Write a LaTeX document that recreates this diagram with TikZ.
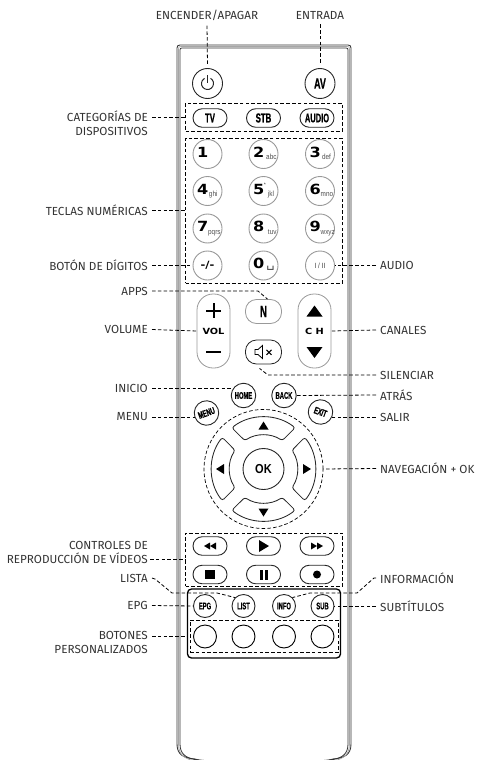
\documentclass[tikz,border=0pt]{standalone}
\usepackage{fontspec}
\setmainfont{Fira Sans}
\newfontfamily\capfont[FakeStretch=0.6,FakeBold=0.6]{Liberation Sans Bold}
\newfontfamily\numfont[FakeStretch=1.15]{DejaVu Sans Bold}
\newfontfamily\subfont[FakeStretch=0.85]{Liberation Sans}
\newfontfamily\symfont{DejaVu Sans}
\newcommand{\dkey}[2]{\makebox[26pt][l]{\hspace{2.5pt}\raisebox{-3pt}[0pt][0pt]{\numfont\fontsize{14}{14}\selectfont #1}\hfill\raisebox{-5.5pt}[0pt][0pt]{\subfont\fontsize{7.5}{7.5}\selectfont\color{black!70} #2}}}
\usetikzlibrary{positioning,arrows.meta}

\begin{document}
\begin{tikzpicture}[x=1pt,y=-1pt,
  lbc/.style={inner sep=0pt, font=\fontsize{11.7}{13.5}\selectfont, text=black!80},
  lbl/.style={lbc, align=right, anchor=east},
  lbr/.style={lbc, align=left, anchor=west},
  lead/.style={dash pattern=on 3.6pt off 2.2pt, line width=.8pt, black},
  zone/.style={draw=black, dash pattern=on 3.6pt off 2.2pt, line width=.8pt, minimum width=157pt, inner sep=0pt},
  rnd/.style={draw=black!85, circle, line width=.9pt, inner sep=0pt, minimum size=23pt, font=\capfont\fontsize{9.7}{9.7}\selectfont},
  big/.style={rnd, minimum size=30pt, font=\capfont\fontsize{15}{15}\selectfont},
  num/.style={rnd, draw=black!40, minimum size=29pt},
  pill/.style={draw=black!85, line width=.9pt, rounded corners=9.2pt, inner sep=0pt, minimum width=34pt, minimum height=18.5pt, font=\capfont\fontsize{13}{13}\selectfont},
  tall/.style={draw=black!40, line width=.8pt, rounded corners=16pt, inner sep=0pt, minimum width=33pt, minimum height=74pt, font=\numfont\fontsize{8.5}{8.5}\selectfont},
  oval/.style={draw=black!40, line width=.8pt, rounded corners=11pt, inner sep=0pt, minimum width=36pt, minimum height=24pt}]
\useasboundingbox (0,0) rectangle (477,760);
% remote body
\draw[line width=.9pt, black!80] (205,762) -- (195,759) .. controls (184,758) and (177,755) .. (177,744)
  -- (177,48) .. controls (177,46) and (178,45) .. (180,45) -- (348,45) .. controls (350,45) and (351,46) .. (351,48)
  -- (351,744) .. controls (351,755) and (344,758) .. (333,759) -- (323,762);
\draw[line width=.7pt, black!35] (205,762) -- (195,761) .. controls (185,759) and (178.5,755) .. (178.5,744)
  -- (178.5,49) .. controls (178.5,47) and (179,46.5) .. (181,46.5) -- (347,46.5) .. controls (349,46.5) and (349.5,47) .. (349.5,49)
  -- (349.5,744) .. controls (349.5,755) and (343,759) .. (333,761) -- (323,762);
\draw[line width=.8pt, black!80] (205,760.5) -- (195,759.5) .. controls (186,758) and (180,754) .. (180,744)
  -- (180,50) .. controls (180,48.5) and (180.5,48) .. (182,48) -- (346,48) .. controls (347.5,48) and (348,48.5) .. (348,50)
  -- (348,744) .. controls (348,754) and (342,758) .. (333,759.5) -- (323,760.5);
% buttons at the top
\node[big] (pwr) at (207.5,83.5) {};
\node[big] (av) at (320,83.5) {AV};
\begin{scope}[shift={(pwr.center)}, y=1pt]
  \draw[line width=1pt, black!85] (60:6) arc[start angle=60, end angle=-240, radius=6];
  \draw[line width=1pt, black!85] (0,1) -- (0,9);
\end{scope}
\node[zone, minimum height=28pt] (dev) at (264,117) {};
\node[pill] (tv) at (210,118) {TV};
\node[pill] (stb) at (263.5,118) {STB};
\node[pill, font=\capfont\fontsize{12.5}{12.5}\selectfont] (aud) at (317,118) {AUDIO};
% number keys
\node[zone, minimum height=145pt] (nums) at (264,210.5) {};
\node[num] (k1) at (207.5,154) {\dkey{1}{}};
\node[num] (k2) at (263.5,154) {\dkey{2}{abc}};
\node[num] (k3) at (320,154) {\dkey{3}{def\hspace{2pt}}};
\node[num] (k4) at (207.5,191) {\dkey{4}{ghi\hspace{3pt}}};
\node[num] (k5) at (263.5,191) {\dkey{5\rlap{\raisebox{8pt}{\subfont\fontsize{5}{5}\selectfont *}}}{jkl\hspace{2.5pt}}};
\node[num] (k6) at (320,191) {\dkey{6}{mno\hspace{2pt}}};
\node[num] (k7) at (207.5,228.5) {\dkey{7}{pqrs\hspace{1pt}}};
\node[num] (k8) at (263.5,228.5) {\dkey{8}{tuv}};
\node[num] (k9) at (320,228.5) {\dkey{9}{wxyz\hspace{2pt}}};
\node[num, font=\numfont\fontsize{10}{10}\selectfont] (dig) at (207.5,265.5) {-/-};
\node[num] (k0) at (263.5,265.5) {\dkey{0}{\raisebox{4pt}{\symfont\fontsize{13}{13}\selectfont ␣}\hspace{2pt}}};
\node[num, font=\subfont\fontsize{7.5}{7.5}\selectfont\color{black!75}] (dual) at (320,265.5) {I / II};
% volume, channels
\node[tall] (vol) at (213.5,331) {VOL};
\node[tall] (chn) at (314.5,331) {C H};
\node[oval] (app) at (263.5,311.5) {\capfont\fontsize{16.5}{16.5}\selectfont N};
\node[oval, draw=black!85] (mute) at (263.5,352) {};
\fill (vol.center) ++(-7.5,-21.5) rectangle ++(15,2);
\fill (vol.center) ++(-1,-28) rectangle ++(2,15);
\fill (vol.center) ++(-7.5,19.7) rectangle ++(15,2);
\fill (chn.center) ++(0,-25.5) -- ++(8,11) -- ++(-16,0) -- cycle;
\fill (chn.center) ++(0,27) -- ++(8,-11) -- ++(-16,0) -- cycle;
\draw[line width=.8pt] (mute.center) ++(-8.5,-2.5) -- ++(3,0) -- ++(4.5,-4) -- ++(0,13) -- ++(-4.5,-4) -- ++(-3,0) -- cycle;
\draw[line width=1pt] (mute.center) ++(3,-2.2) -- ++(5,5) ++(0,-5) -- ++(-5,5);
% small round keys
\node[rnd, minimum size=24.5pt] (home) at (243.5,395.5) {HOME};
\node[rnd, minimum size=24.5pt] (back) at (284,395.5) {BACK};
\node[rnd, minimum size=24.5pt, rotate=20] (menu) at (206.5,413) {MENU};
\node[rnd, minimum size=24.5pt, rotate=-20] (exit) at (320.5,412) {EXIT};
% navigation
\node[draw=black, circle, dash pattern=on 3.6pt off 2.2pt, line width=.7pt, minimum size=119pt, inner sep=0pt] (nav) at (263.5,469) {};
\node[rnd, minimum size=41pt, font=\subfont\bfseries\fontsize{13}{13}\selectfont] (ok) at (nav.center) {OK};
\foreach \a in {0,90,180,270} {
  \begin{scope}[shift={(nav.center)}, y=1pt, rotate=\a]
    \draw[line width=.85pt, black!85, rounded corners=2.5pt] (127.5:52) arc[start angle=127.5, end angle=52.5, radius=52]
      -- (56.6:34) arc[start angle=56.6, end angle=123.4, radius=34] -- cycle;
    \fill (0,47.5) -- (5,39.5) -- (-5,39.5) -- cycle;
  \end{scope}
}
% video controls
\node[zone, minimum height=53pt] (vid) at (264,559.5) {};
\node[pill] (rew) at (210,546) {};
\node[pill] (ply) at (263.5,546) {};
\node[pill] (fwd) at (317,546) {};
\node[pill] (stp) at (210,574.5) {};
\node[pill] (pau) at (263.5,574.5) {};
\node[pill] (rec) at (317,574.5) {};
\fill (rew.center) -- ++(6,-3.5) -- ++(0,7) -- cycle;
\fill (rew.center) ++(-6,0) -- ++(6,-3.5) -- ++(0,7) -- cycle;
\fill (ply.center) ++(-4.5,-6) -- ++(10,6) -- ++(-10,6) -- cycle;
\fill (fwd.center) -- ++(-6,-3.5) -- ++(0,7) -- cycle;
\fill (fwd.center) ++(6,0) -- ++(-6,-3.5) -- ++(0,7) -- cycle;
\fill (stp.center) ++(-5,-4.5) rectangle ++(10,9);
\fill (pau.center) ++(-4,-5) rectangle ++(3,10);
\fill (pau.center) ++(1,-5) rectangle ++(3,10);
\fill (rec.center) circle[radius=4pt];
% lower block
\node[draw, line width=1.3pt, rounded corners=4pt, minimum width=153pt, minimum height=69pt, inner sep=0pt] (blk) at (264,623.5) {};
\node[rnd] (epg) at (205,606) {EPG};
\node[rnd] (lst) at (243.5,606) {LIST};
\node[rnd] (inf) at (284,606) {INFO};
\node[rnd] (sub) at (322.5,606) {SUB};
\node[zone, minimum width=148pt, minimum height=32.5pt] (cus) at (264,636.5) {};
\node[rnd, draw=black] (c1) at (205,636.5) {};
\node[rnd, draw=black] (c2) at (243.5,636.5) {};
\node[rnd, draw=black] (c3) at (284,636.5) {};
\node[rnd, draw=black] (c4) at (322.5,636.5) {};
% labels
\node[lbc] (lpwr) at (207,15) {ENCENDER/APAGAR};
\node[lbc] (lav) at (320,15) {ENTRADA};
\node[lbl] (ldev) at (148,123) {CATEGORÍAS DE\\DISPOSITIVOS};
\node[lbl] (lnum) at (148,210.5) {TECLAS NUMÉRICAS};
\node[lbl] (ldig) at (148,265.5) {BOTÓN DE DÍGITOS};
\node[lbl] (lapp) at (148,291) {APPS};
\node[lbl] (lvol) at (148,329.5) {VOLUME};
\node[lbl] (lhom) at (148,388) {INICIO};
\node[lbl] (lmen) at (148,417) {MENU};
\node[lbl] (lvid) at (148,552.5) {CONTROLES DE\\REPRODUCCIÓN DE VÍDEOS};
\node[lbl] (llst) at (148,578) {LISTA};
\node[lbl] (lepg) at (148,605.5) {EPG};
\node[lbl] (lcus) at (148,642.5) {BOTONES\\PERSONALIZADOS};
\node[lbr] (laud) at (380,265.5) {AUDIO};
\node[lbr] (lchn) at (380,330) {CANALES};
\node[lbr] (lmut) at (380,375) {SILENCIAR};
\node[lbr] (lbak) at (380,395) {ATRÁS};
\node[lbr] (lexi) at (380,417) {SALIR};
\node[lbr] (lnav) at (380,468.5) {NAVEGACIÓN + OK};
\node[lbr] (linf) at (380,578) {INFORMACIÓN};
\node[lbr] (lsub) at (380,606) {SUBTÍTULOS};
% leaders
\draw[lead] (lpwr.south) ++(0,5) -- ([yshift=3.5pt]pwr.north);
\draw[lead] (lav.south) ++(0,5) -- ([yshift=3.5pt]av.north);
\draw[lead] (ldev.east |- dev.west) ++(4,0) -- (dev.west);
\draw[lead] (lnum.east) ++(4,0) -- (nums.west);
\draw[lead] (ldig.east) ++(4,0) -- (dig.west);
\draw[lead] (lapp.east) ++(4,0) -- (258,291) -- ([xshift=4pt]app.north);
\draw[lead] (lvol.east) ++(4,0) -- (vol.west);
\draw[lead] (lhom.east) ++(4,0) -- (home.west |- lhom.east);
\draw[lead] (lmen.east) ++(4,0) -- (menu.west |- lmen.east);
\draw[lead] (lvid.east |- vid.west) ++(2,0) -- (vid.west);
\draw[lead] (llst.east) ++(4,0) -- ++(3,1) -- (172,593) -- (217,593) -- (lst.north west);
\draw[lead] (lepg.east) ++(4,0) -- (epg.west);
\draw[lead] (lcus.east |- cus.west) ++(4,0) -- (blk.west |- cus.west);
\draw[lead] (laud.west) ++(-4,0) -- (dual.east);
\draw[lead] (lchn.west) ++(-4,0) -- (chn.east);
\draw[lead] (lmut.west) ++(-4,0) -- (268,375) -- ([xshift=-4pt,yshift=-4pt]mute.south);
\draw[lead] (lbak.west) ++(-4,0) -- (back.east);
\draw[lead] (lexi.west) ++(-4,0) -- (exit.east |- lexi.west);
\draw[lead] (lnav.west) ++(-4,0) -- (nav.east);
\draw[lead] (linf.west) ++(-4,0) -- ++(-2,0) -- (357,593) -- (310,593) -- (inf.north east);
\draw[lead] (lsub.west) ++(-4,0) -- (sub.east);
\end{tikzpicture}
\end{document}
